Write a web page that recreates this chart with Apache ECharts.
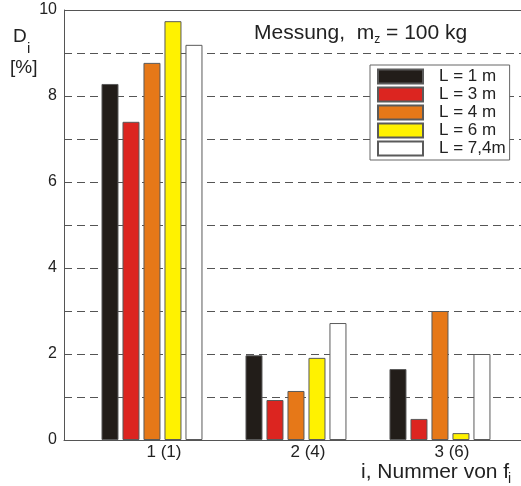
<!DOCTYPE html>
<html><head><meta charset="utf-8">
<script src="https://cdn.jsdelivr.net/npm/echarts@6/dist/echarts.min.js"></script>
<style>html,body{margin:0;padding:0;background:#fff;overflow:hidden}#c{width:540px;height:486px}</style>
</head><body><div id="c"></div>
<script>
// ---- data ----
const groupPositions = [1, 2, 3];
const categoryLabels = ['1 (1)', '2 (4)', '3 (6)'];
const seriesNames = ['L = 1 m', 'L = 3 m', 'L = 4 m', 'L = 6 m', 'L = 7,4m'];
const valuesL1 = [8.28, 1.97, 1.65];
const valuesL3 = [7.40, 0.93, 0.49];
const valuesL4 = [8.77, 1.14, 3.00];
const valuesL6 = [9.74, 1.91, 0.16];
const valuesL74 = [9.19, 2.72, 2.00];
const yTickLabels = [0, 2, 4, 6, 8, 10];
const yMax = 10;

const seriesValues = [valuesL1, valuesL3, valuesL4, valuesL6, valuesL74];
const colors = ['#221d19', '#dc2520', '#e67818', '#fff200', '#ffffff'];
const FONT = '"Liberation Sans", Arial, sans-serif';

const chart = echarts.init(document.getElementById('c'), null, {renderer: 'canvas'});
const series = seriesNames.map((name, k) => ({
  name: name,
  type: 'bar',
  barWidth: 17,
  barGap: '23.5%',
  data: groupPositions.map((x, i) => [x, seriesValues[k][i]]),
  itemStyle: {color: colors[k], borderColor: '#5a5a5a', borderWidth: 1},
  emphasis: {disabled: true},
  animation: false,
  markLine: k === 0 ? {
    silent: true, symbol: 'none', label: {show: false},
    lineStyle: {color: '#555', width: 1, type: 'solid'},
    data: [{yAxis: yMax}]
  } : undefined
}));

chart.setOption({
  animation: false,
  backgroundColor: '#ffffff',
  textStyle: {fontFamily: FONT},
  title: [
    {text: 'Messung,  m{z|z} = 100 kg', left: 254, top: 21, padding: 0,
     textStyle: {fontFamily: FONT, fontSize: 21, fontWeight: 'normal', color: '#222', lineHeight: 25,
       rich: {z: {fontFamily: FONT, fontSize: 12, color: '#222', verticalAlign: 'bottom', lineHeight: 12}}}},
    {text: 'D', left: 13, top: 27, padding: 0, textStyle: {fontFamily: FONT, fontSize: 19, fontWeight: 'normal', color: '#222'}},
    {text: 'i', left: 27, top: 41, padding: 0, textStyle: {fontFamily: FONT, fontSize: 15, fontWeight: 'normal', color: '#222'}},
    {text: '[%]', left: 10, top: 58, padding: 0, textStyle: {fontFamily: FONT, fontSize: 19, fontWeight: 'normal', color: '#222'}},
    {text: 'i, Nummer von f', left: 361, top: 462, padding: 0, textStyle: {fontFamily: FONT, fontSize: 21, fontWeight: 'normal', color: '#222'}},
    {text: 'i', left: 508, top: 472, padding: 0, textStyle: {fontFamily: FONT, fontSize: 14, fontWeight: 'normal', color: '#222'}}
  ],
  legend: {
    orient: 'vertical', left: 370, top: 65,
    itemWidth: 45, itemHeight: 14, itemGap: 1,
    padding: [3, 4, 3, 7],
    borderColor: '#666', borderWidth: 1, backgroundColor: '#fff',
    icon: 'rect',
    selectedMode: false,
    textStyle: {fontFamily: FONT, fontSize: 17, color: '#222', padding: [0, 0, 0, 11]},
    data: seriesNames
  },
  grid: {left: 64, top: 10, width: 470, height: 430, show: false, outerBoundsMode: 'none'},
  xAxis: {
    type: 'value', min: 0.389, max: 3.653,
    axisLine: {show: true, lineStyle: {color: '#555', width: 1}},
    axisTick: {show: false},
    splitLine: {show: false},
    axisLabel: {
      customValues: groupPositions,
      formatter: v => categoryLabels[groupPositions.indexOf(v)] || '',
      fontFamily: FONT, fontSize: 17, color: '#222', margin: 4, padding: [0, 0, 0, 24]
    }
  },
  yAxis: {
    type: 'value', min: 0, max: yMax, interval: 1,
    axisLine: {show: true, lineStyle: {color: '#555', width: 1}},
    axisTick: {show: false},
    splitLine: {show: true, lineStyle: {color: '#555', width: 1, type: [8, 5]}},
    axisLabel: {customValues: yTickLabels, fontFamily: FONT, fontSize: 16, color: '#222', margin: 7}
  },
  series: series
});
</script>
</body></html>
